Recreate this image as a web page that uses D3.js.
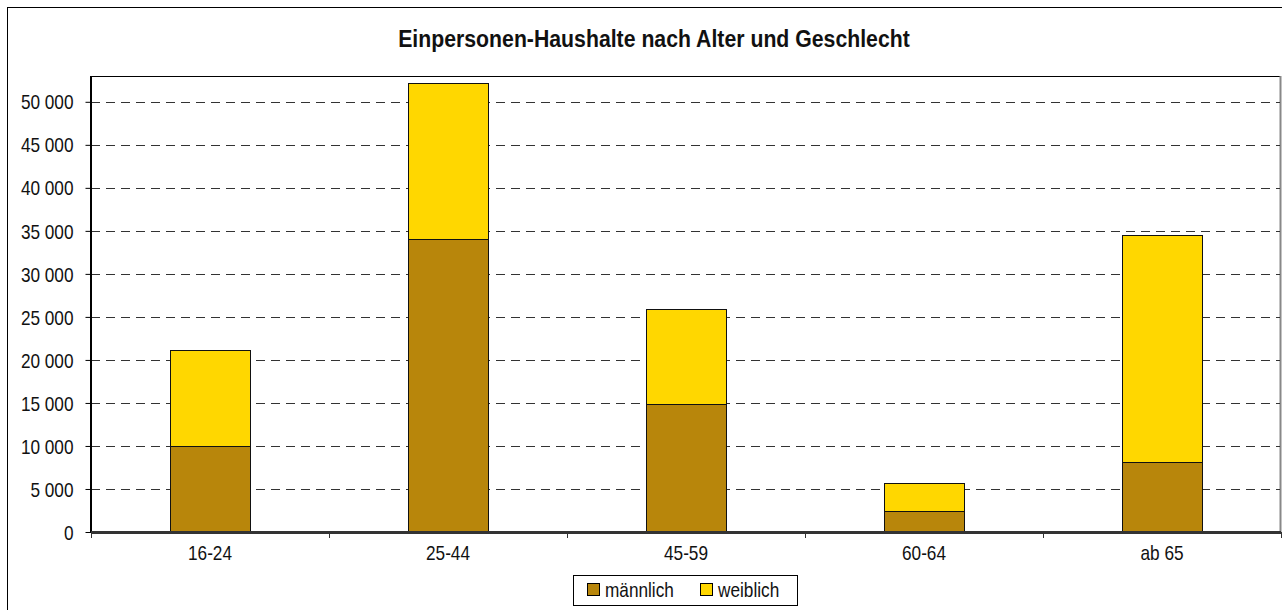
<!DOCTYPE html>
<html>
<head>
<meta charset="utf-8">
<script src="https://cdn.jsdelivr.net/npm/d3@7/dist/d3.min.js"></script>
<style>
  html, body { margin: 0; padding: 0; background: #fff; }
  svg { display: block; }
  text { font-family: "Liberation Sans", Arial, sans-serif; fill: #111; }
</style>
</head>
<body>
<svg id="chart" width="1282" height="610"></svg>
<script>
// Einpersonen-Haushalte nach Altersgruppe, getrennt nach Geschlecht
const categories = ["16-24", "25-44", "45-59", "60-64", "ab 65"];
const maennlich = [10050, 34100, 14900, 2450, 8150];
const weiblich  = [11050, 18100, 11000, 3250, 26400];
const seriesNames = ["männlich", "weiblich"];
const seriesColors = ["#B8860B", "#FFD700"];
const yTicks = [0, 5000, 10000, 15000, 20000, 25000, 30000, 35000, 40000, 45000, 50000];

const svg = d3.select("#chart");
const W = 1282, H = 610;
const plot = { left: 91, right: 1281, top: 76, bottom: 532 };
const NARROW = 0.82; // horizontal squeeze for a narrow sans look

// squeeze text horizontally around its own anchor
function condense(sel, factor) {
  sel.each(function () {
    const t = d3.select(this);
    const x0 = +(t.attr("x") || 0);
    t.attr("x", x0 / factor).attr("transform", `scale(${factor},1)`);
  });
}

// outer chart frame
svg.append("rect")
  .attr("x", 7.5).attr("y", 7.5)
  .attr("width", W + 20).attr("height", H + 20)
  .attr("fill", "none").attr("stroke", "#000").attr("stroke-width", 1);

const title = svg.append("text")
  .attr("x", 654).attr("y", 47)
  .attr("text-anchor", "middle")
  .style("font-size", "24px").style("font-weight", "bold")
  .text("Einpersonen-Haushalte nach Alter und Geschlecht");
const titleScale = 512 / title.node().getComputedTextLength();
condense(title, titleScale);

const x = d3.scaleBand().domain(categories)
  .range([plot.left, plot.right]).paddingInner(0).paddingOuter(0);
const y = d3.scaleLinear().domain([0, 53000]).range([plot.bottom, plot.top]);

// plot area frame (top and right)
svg.append("path")
  .attr("d", `M${plot.left},${plot.top + 0.5}H${plot.right - 0.5}V${plot.bottom}`)
  .attr("fill", "none").attr("stroke", "#000").attr("stroke-width", 1);
svg.append("line")
  .attr("x1", plot.right - 0.5).attr("x2", plot.right - 0.5)
  .attr("y1", plot.top).attr("y2", plot.bottom)
  .attr("stroke", "#888").attr("stroke-width", 2);

// dashed grid lines
svg.append("g").selectAll("line")
  .data(yTicks.filter(d => d > 0))
  .join("line")
  .attr("x1", plot.left).attr("x2", plot.right - 1)
  .attr("y1", d => Math.round(y(d)) + 0.5).attr("y2", d => Math.round(y(d)) + 0.5)
  .attr("stroke", "#333").attr("stroke-width", 1)
  .attr("stroke-dasharray", "9,6");

// stacked bars
const rows = categories.map((c, i) => ({ cat: c, "männlich": maennlich[i], "weiblich": weiblich[i] }));
const stack = d3.stack().keys(seriesNames)(rows);
const barW = 80;
svg.append("g").selectAll("g")
  .data(stack)
  .join("g")
  .attr("fill", (d, i) => seriesColors[i])
  .selectAll("rect")
  .data(d => d)
  .join("rect")
  .attr("x", d => Math.round(x(d.data.cat) + x.bandwidth() / 2 - barW / 2) + 0.5)
  .attr("width", barW)
  .attr("y", d => Math.round(y(d[1])) + 0.5)
  .attr("height", d => Math.round(y(d[0])) - Math.round(y(d[1])))
  .attr("stroke", "#111").attr("stroke-width", 1);

// y axis
svg.append("g")
  .attr("transform", `translate(${plot.left + 0.5},0)`)
  .call(d3.axisLeft(y).tickValues(yTicks).tickSize(6).tickPadding(12)
    .tickFormat(d => d3.format(",")(d).replace(/,/g, " ")))
  .call(g => g.select(".domain").attr("d", `M-0.5,${plot.top}V${plot.bottom}`).attr("stroke", "#000").attr("stroke-width", 2))
  .call(g => g.selectAll(".tick line").attr("stroke", "#000"))
  .call(g => g.selectAll(".tick text").style("font-size", "21px").attr("fill", "#111")
    .attr("dy", "0.34em"))
  .call(g => condense(g.selectAll(".tick text"), NARROW));

// x axis
svg.append("g")
  .attr("transform", `translate(0,${plot.bottom + 0.5})`)
  .call(d3.axisBottom(x).tickSize(0).tickPadding(13))
  .call(g => g.select(".domain").attr("d", `M${plot.left},0H${plot.right}`).attr("stroke", "#333").attr("stroke-width", 3))
  .call(g => g.selectAll(".tick text").style("font-size", "21px").attr("fill", "#111"))
  .call(g => condense(g.selectAll(".tick text"), NARROW));
// category separators on x axis
svg.append("g").selectAll("line")
  .data(categories.map(c => x(c)).concat([plot.right]))
  .join("line")
  .attr("x1", d => Math.round(d) + 0.5).attr("x2", d => Math.round(d) + 0.5)
  .attr("y1", plot.bottom).attr("y2", plot.bottom + 6)
  .attr("stroke", "#333").attr("stroke-width", 1);

// legend
const lg = svg.append("g");
lg.append("rect")
  .attr("x", 573.5).attr("y", 575.5).attr("width", 224).attr("height", 30)
  .attr("fill", "#fff").attr("stroke", "#000").attr("stroke-width", 1);
const legendX = [587, 700];
seriesNames.forEach((name, i) => {
  lg.append("rect")
    .attr("x", legendX[i] + 0.5).attr("y", 583.5).attr("width", 12).attr("height", 12)
    .attr("fill", seriesColors[i]).attr("stroke", "#000").attr("stroke-width", 1);
  const t = lg.append("text")
    .attr("x", legendX[i] + 18).attr("y", 597)
    .style("font-size", "21px")
    .text(name);
  condense(t, NARROW);
});
</script>
</body>
</html>
